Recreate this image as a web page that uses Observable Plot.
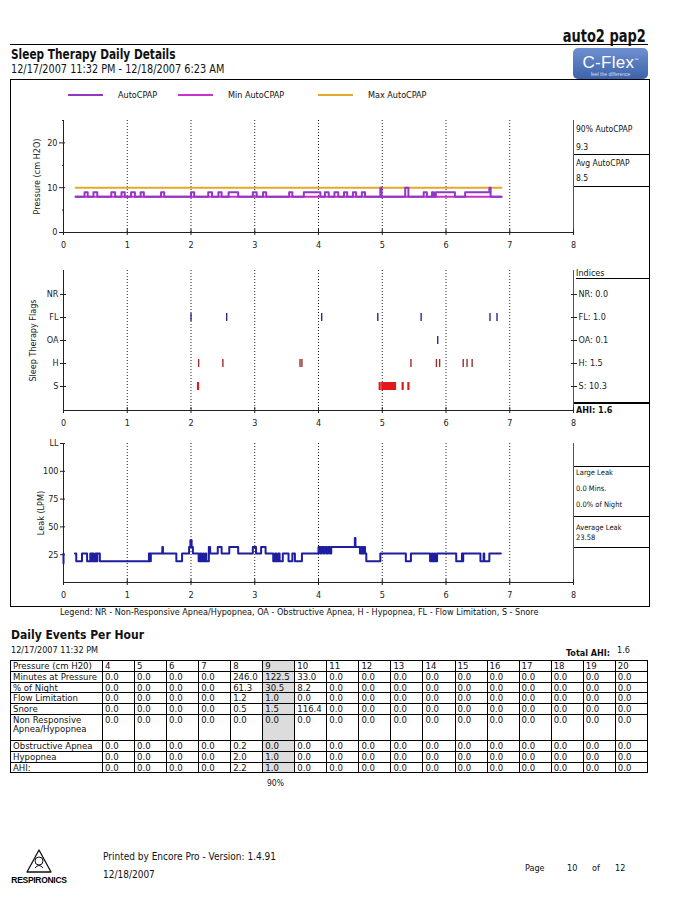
<!DOCTYPE html>
<html><head><meta charset="utf-8">
<script src="https://cdn.jsdelivr.net/npm/d3@7"></script>
<script src="https://cdn.jsdelivr.net/npm/@observablehq/plot@0.6"></script>
<style>
body{margin:0;background:#fff;}
#page{position:relative;width:694px;height:910px;overflow:hidden;background:#fff;font-family:"DejaVu Sans Condensed","DejaVu Sans",sans-serif;color:#111;}
.a{position:absolute;white-space:nowrap;line-height:1;}
.hl{position:absolute;height:0;border-top:1px solid #000;}
.narrow{font-family:"Liberation Sans Narrow","DejaVu Sans Condensed","Liberation Sans",sans-serif;transform-origin:left center;}
table.ev{position:absolute;left:10px;top:660px;width:638px;border-collapse:collapse;table-layout:fixed;font-size:9.5px;line-height:9.5px;}
table.ev td{border:1px solid #000;padding:0 2px;height:9.8px;vertical-align:top;white-space:nowrap;overflow:hidden;}
table.ev td.sh{background:#dcdcdc;}
</style></head><body><div id="page"></div>
<script>
// ---------------- data ----------------
const hourTicks = [0, 1, 2, 3, 4, 5, 6, 7, 8];
const gridHours = [1, 2, 3, 4, 5, 6, 7];

const autoTimes = [0.19,0.33,0.38,0.47,0.53,0.75,0.81,0.91,0.96,1.06,1.12,1.21,1.26,1.53,1.58,2.00,2.05,2.27,2.33,2.43,2.48,2.59,2.74,2.97,3.03,3.13,3.18,3.54,3.59,3.77,4.03,4.10,4.16,4.25,4.31,4.40,4.45,4.54,4.59,4.68,4.73,4.97,4.99,5.36,5.41,5.65,5.70,5.78,5.81,5.84,6.14,6.30,6.68,6.70,6.87];
const autoValues = [8,9,8,9,8,9,8,9,8,9,8,9,8,9,8,9,8,9,8,9,8,9,8,9,8,9,8,9,8,9,8,9,8,9,8,9,8,9,8,9,8,10,8,10,8,9,8,9,8,9,8,9,10,8,8];
const minTimes = [0.19, 6.87];
const minValues = [8, 8];
const maxTimes = [0.19, 6.87];
const maxValues = [10, 10];
const pressureMajorTicks = [0, 10, 20];
const pressureMinorTicks = [5, 15, 25];
const pressure90 = "9.3";
const pressureAvg = "8.5";

const flagTypes = ["NR", "FL", "OA", "H", "S"];
const nrFlags = [];
const flFlags = [2.00, 2.56, 4.05, 4.93, 5.61, 6.69, 6.80];
const oaFlags = [5.87];
const hFlags = [2.12, 2.50, 3.71, 3.74, 5.45, 5.85, 5.90, 6.27, 6.33, 6.41];
const sFlags = [2.11, 4.96, 5.00, 5.02, 5.04, 5.06, 5.08, 5.10, 5.12, 5.14, 5.16, 5.18, 5.20, 5.32, 5.41];
const indexValues = ["0.0", "1.0", "0.1", "1.5", "10.3"];
const totalAHI = "1.6";

const leakTimes = [0.18,0.20,0.29,0.37,0.42,0.44,0.45,0.47,0.50,0.52,0.53,0.57,1.34,1.36,1.37,1.55,1.56,1.77,1.86,1.97,1.99,2.01,2.03,2.12,2.14,2.16,2.19,2.20,2.23,2.24,2.28,2.30,2.42,2.48,2.60,2.74,2.97,3.02,3.10,3.17,3.29,3.32,3.34,3.37,3.39,3.44,3.53,3.59,3.63,3.74,4.00,4.03,4.05,4.08,4.10,4.13,4.15,4.18,4.20,4.57,4.58,4.65,4.67,4.69,4.71,4.73,4.75,4.97,5.37,5.45,5.75,5.78,5.79,5.82,5.83,5.86,6.16,6.25,6.26,6.27,6.54,6.59,6.60,6.68,6.86];
const leakValues = [26,19,26,19,26,19,26,19,26,19,26,19,26,19,26,32,26,19,26,32,38,32,26,19,26,19,26,19,26,19,32,26,32,26,32,26,32,26,32,26,19,26,19,26,19,26,19,26,19,26,32,26,32,26,32,26,32,26,32,40,32,26,32,26,32,26,19,26,19,26,19,26,19,26,19,26,19,26,19,26,19,26,19,26,26];
const leakStartTimes = [0, 0];
const leakStartValues = [17, 26];
const leakTicks = [25, 50, 75, 100, 125];
const largeLeakMins = "0.0";
const largeLeakPct = "0.0";
const averageLeak = "23.58";

const tablePressures = [4,5,6,7,8,9,10,11,12,13,14,15,16,17,18,19,20];
const minutesAtPressure = [0,0,0,0,246.0,122.5,33.0,0,0,0,0,0,0,0,0,0,0];
const percentOfNight   = [0,0,0,0,61.3,30.5,8.2,0,0,0,0,0,0,0,0,0,0];
const flowLimitation   = [0,0,0,0,1.2,1.0,0.0,0,0,0,0,0,0,0,0,0,0];
const snoreRow         = [0,0,0,0,0.5,1.5,116.4,0,0,0,0,0,0,0,0,0,0];
const nonResponsive    = [0,0,0,0,0,0,0,0,0,0,0,0,0,0,0,0,0];
const obstructiveApnea = [0,0,0,0,0.2,0,0,0,0,0,0,0,0,0,0,0,0];
const hypopneaRow      = [0,0,0,0,2.0,1.0,0,0,0,0,0,0,0,0,0,0,0];
const ahiRow           = [0,0,0,0,2.2,1.0,0,0,0,0,0,0,0,0,0,0,0];
const percentileColumn = 9;

// -------------- helpers --------------
const page = document.getElementById("page");
function txt(s, x, y, fs, extra = "", cls = "") {
  const d = document.createElement("div");
  d.className = "a " + cls;
  d.textContent = s;
  d.style.cssText += `left:${x}px;top:${y - fs * 0.5}px;font-size:${fs}px;${extra}`;
  page.appendChild(d);
  return d;
}
function hline(x1, x2, y, w = 1) {
  const d = document.createElement("div");
  d.className = "hl";
  d.style.cssText += `left:${x1}px;top:${y}px;width:${x2 - x1}px;border-top-width:${w}px;`;
  page.appendChild(d);
}
function place(svg, x, y) {
  svg.style.position = "absolute";
  svg.style.left = x + "px";
  svg.style.top = y + "px";
  page.appendChild(svg);
}
const FONT = '"DejaVu Sans Condensed","DejaVu Sans",sans-serif';
const series = (ts, vs) => ts.map((t, i) => ({t, v: vs[i]}));
const blank = () => "";
const common = {
  width: 639, marginLeft: 53, marginRight: 76,
  style: {fontFamily: FONT, fontSize: "9px", color: "#222", background: "transparent", overflow: "visible"}
};
const xAxisMarks = (lblPad) => [
  Plot.gridX({ticks: gridHours, stroke: "#222", strokeOpacity: 1, strokeDasharray: "1,2"}),
  Plot.frame({anchor: "left", stroke: "#222"}),
  Plot.frame({anchor: "bottom", stroke: "#222", strokeWidth: 1.2}),
  Plot.frame({anchor: "right", stroke: "#555", strokeDasharray: "2,1"}),
  Plot.axisX({ticks: hourTicks, tickSize: 3, tickPadding: lblPad, tickFormat: d => d, label: null}),
  Plot.axisX({ticks: hourTicks, tickSize: 3, dy: -3, tickFormat: blank, label: null})
];

// -------------- header --------------
txt("auto2 pap2", 0, 36, 17, "font-weight:bold;left:auto;right:48px;transform:scaleX(0.85);transform-origin:right center;", "narrow");
hline(10, 648, 44, 1);
txt("Sleep Therapy Daily Details", 11, 55, 13.5, "font-weight:bold;transform:scaleX(0.87);", "narrow");
txt("12/17/2007 11:32 PM - 12/18/2007 6:23 AM", 11, 70, 11.5, "transform:scaleX(0.94);", "narrow");
{
  const c = document.createElement("div");
  c.style.cssText = "position:absolute;left:573px;top:48px;width:75px;height:31px;border-radius:5px;background:linear-gradient(#7090d0,#3d63aa);color:#fff;text-align:center;font-family:'Liberation Sans',sans-serif;";
  c.innerHTML = '<div style="font-size:17px;line-height:17px;margin-top:3px;letter-spacing:0.3px">C-Flex<sup style="font-size:4px">™</sup></div><div style="font-size:5px;line-height:6px;color:#dde">feel the difference</div>';
  page.appendChild(c);
}

// outer chart box
{
  const b = document.createElement("div");
  b.style.cssText = "position:absolute;left:10px;top:79px;width:638px;height:526px;border:1px solid #000;";
  page.appendChild(b);
}

// legend of pressure panel
const legendItems = [
  {name: "AutoCPAP", color: "#9436c4", x: 68},
  {name: "Min AutoCPAP", color: "#c832c8", x: 178},
  {name: "Max AutoCPAP", color: "#e3a928", x: 318}
];
legendItems.forEach(it => {
  const l = document.createElement("div");
  l.style.cssText = `position:absolute;left:${it.x}px;top:94px;width:35px;height:0;border-top:2px solid ${it.color};`;
  page.appendChild(l);
  txt(it.name, it.x + 50, 95, 9);
});

// -------------- pressure panel --------------
const pressure = Plot.plot({
  ...common, height: 175, marginTop: 40, marginBottom: 23,
  x: {domain: [0, 8], label: null},
  y: {domain: [0, 25], label: null},
  marks: [
    ...xAxisMarks(6),
    Plot.axisY({ticks: pressureMajorTicks, tickSize: 4, tickPadding: 2, label: "Pressure (cm H2O)", labelAnchor: "center", labelOffset: 30, labelArrow: "none"}),
    Plot.axisY({ticks: pressureMajorTicks, tickSize: 2, dx: 2, tickFormat: blank, label: null}),
    Plot.axisY({ticks: pressureMinorTicks, tickSize: 2, dx: 1, tickFormat: blank, label: null}),
    Plot.line(series(maxTimes, maxValues), {x: "t", y: "v", stroke: "#e3a928", strokeWidth: 2}),
    Plot.line(series(minTimes, minValues), {x: "t", y: "v", stroke: "#c832c8", strokeWidth: 2}),
    Plot.line(series(autoTimes, autoValues), {x: "t", y: "v", stroke: "#9436c4", strokeWidth: 2, curve: "step-after"})
  ]
});
place(pressure, 10, 80);
txt("90% AutoCPAP", 576, 129, 8.5);
txt(pressure90, 576, 147, 8.5);
hline(574, 649, 154);
txt("Avg AutoCPAP", 576, 163, 8.5);
txt(pressureAvg, 576, 178, 8.5);
hline(574, 649, 186);

// -------------- flags panel --------------
const indexRows = flagTypes.map((type, i) => ({type, val: indexValues[i]}));
const flagMark = (arr, type, color, w = 1.4) => Plot.tickX(arr, {x: d => d, y: () => type, stroke: color, strokeWidth: w});
const flags = Plot.plot({
  ...common, height: 170, marginTop: 10, marginBottom: 20,
  x: {domain: [0, 8], label: null},
  y: {domain: flagTypes, type: "band", paddingInner: 0.64, paddingOuter: 0.82, label: null},
  marks: [
    ...xAxisMarks(6),
    Plot.axisY({tickSize: 3, tickPadding: 2, label: "Sleep Therapy Flags", labelAnchor: "center", labelOffset: 34, labelArrow: "none"}),
    Plot.axisY({tickSize: 3, dx: 3, tickFormat: blank, label: null}),
    Plot.axisY({anchor: "right", tickSize: 3, tickFormat: blank, label: null}),
    Plot.axisY({anchor: "right", tickSize: 3, dx: -3, tickFormat: blank, label: null}),
    flagMark(nrFlags, "NR", "#2b2b8c"),
    flagMark(flFlags, "FL", "#2b2b8c"),
    flagMark(oaFlags, "OA", "#2b2b8c"),
    flagMark(hFlags, "H", "#9a3030"),
    flagMark(sFlags, "S", "#e01a1a", 2.2),
    Plot.text(indexRows, {x: () => 8, y: "type", text: d => `${d.type}: ${d.val}`, dx: 5, textAnchor: "start", fontSize: 9})
  ]
});
place(flags, 10, 260);
txt("Indices", 576, 273, 9);
hline(576, 649, 278);
hline(574, 649, 402, 2);
txt("AHI: " + totalAHI, 576, 410, 9, "font-weight:bold;");

// -------------- leak panel --------------
const leak = Plot.plot({
  ...common, height: 165, marginTop: 8, marginBottom: 18,
  x: {domain: [0, 8], label: null},
  y: {domain: [0, 125], label: null},
  marks: [
    ...xAxisMarks(6),
    Plot.axisY({ticks: leakTicks, tickSize: 3, tickPadding: 2, tickFormat: d => d === 125 ? "LL" : d, label: "Leak (LPM)", labelAnchor: "center", labelOffset: 26, labelArrow: "none"}),
    Plot.axisY({ticks: leakTicks, tickSize: 2, dx: 2, tickFormat: blank, label: null}),
    Plot.line(series(leakStartTimes, leakStartValues), {x: "t", y: "v", stroke: "#1e1ea0", strokeWidth: 2}),
    Plot.line(series(leakTimes, leakValues), {x: "t", y: "v", stroke: "#1e1ea0", strokeWidth: 2, curve: "step-after"})
  ]
});
place(leak, 10, 435);
hline(574, 649, 466);
txt("Large Leak", 576, 473, 7.5);
txt(largeLeakMins + " Mins.", 576, 489, 7.5);
txt(largeLeakPct + "% of Night", 576, 505, 7.5);
hline(574, 649, 516);
txt("Average Leak", 576, 528, 7.5);
txt(averageLeak, 576, 538, 7.5);
hline(574, 649, 547);

txt("Legend: NR - Non-Responsive Apnea/Hypopnea, OA - Obstructive Apnea, H - Hypopnea, FL - Flow Limitation, S - Snore", 60, 612, 9);

// -------------- events table --------------
txt("Daily Events Per Hour", 11, 635, 12, "font-weight:bold;");
txt("12/17/2007 11:32 PM", 11, 650, 9);
txt("Total AHI:", 566, 653, 9, "font-weight:bold;");
txt(totalAHI, 617, 650, 9);
{
  const rows = [
    ["Minutes at Pressure", minutesAtPressure],
    ["% of Night", percentOfNight],
    ["Flow Limitation", flowLimitation],
    ["Snore", snoreRow],
    ["Non Responsive Apnea/Hypopnea", nonResponsive, true],
    ["Obstructive Apnea", obstructiveApnea],
    ["Hypopnea", hypopneaRow],
    ["AHI:", ahiRow]
  ];
  let html = '<colgroup><col style="width:92px">' + tablePressures.map(() => '<col>').join("") + '</colgroup>';
  html += '<tr><td>Pressure (cm H20)</td>' + tablePressures.map(p => `<td${p === percentileColumn ? ' class="sh"' : ''}>${p}</td>`).join("") + '</tr>';
  rows.forEach(([name, vals, tall]) => {
    const h = tall ? ' style="height:25px;white-space:normal"' : '';
    html += `<tr><td${h}>${name}</td>` + vals.map((v, i) => `<td${tablePressures[i] === percentileColumn ? ' class="sh"' : ''}${tall ? ' style="height:25px"' : ''}>${v.toFixed(1)}</td>`).join("") + '</tr>';
  });
  const t = document.createElement("table");
  t.className = "ev";
  t.innerHTML = html;
  page.appendChild(t);
}
txt("90%", 267, 783, 8.5);

// -------------- footer --------------
{
  const ns = "http://www.w3.org/2000/svg";
  const s = document.createElementNS(ns, "svg");
  s.setAttribute("width", 62); s.setAttribute("height", 40);
  s.style.cssText = "position:absolute;left:8px;top:846px;";
  s.innerHTML = '<path d="M31 4 L43 26 L19 26 Z" fill="none" stroke="#111" stroke-width="1.3" stroke-linejoin="round"/>' +
    '<circle cx="31" cy="15" r="4" fill="none" stroke="#111" stroke-width="1"/>' +
    '<path d="M27 22 Q31 17 35 22" fill="none" stroke="#111" stroke-width="1"/>' +
    '<text x="31" y="37" text-anchor="middle" font-family="Liberation Sans,sans-serif" font-weight="bold" font-size="8.5" letter-spacing="-0.3">RESPIRONICS</text>';
  page.appendChild(s);
}
txt("Printed by Encore Pro - Version: 1.4.91", 103, 857, 10);
txt("12/18/2007", 103, 875, 10);
txt("Page", 525, 868, 9);
txt("10", 567, 868, 9);
txt("of", 592, 868, 9);
txt("12", 615, 868, 9);
</script></body></html>
